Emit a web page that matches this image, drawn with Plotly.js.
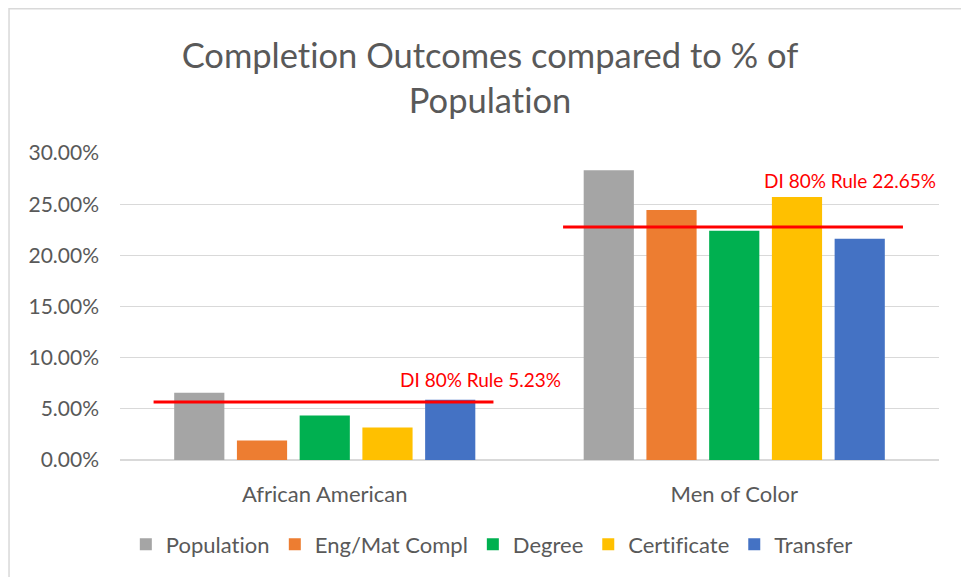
<!DOCTYPE html>
<html>
<head>
<meta charset="utf-8">
<script src="https://cdn.plot.ly/plotly-3.0.1.min.js"></script>
<style>
  html, body { margin: 0; padding: 0; background: #fff; }
  #chart { width: 961px; height: 577px; }
  #chart text { font-variant-ligatures: none; font-feature-settings: "liga" 0; }
</style>
</head>
<body>
<div id="chart"></div>
<script>
const categories = ['African American', 'Men of Color'];
const seriesNames = ['Population', 'Eng/Mat Compl', 'Degree', 'Certificate', 'Transfer'];
const population = [0.0657, 0.2832];
const engMatCompl = [0.0191, 0.2444];
const degree = [0.0434, 0.2240];
const certificate = [0.0317, 0.2570];
const transfer = [0.0589, 0.2162];
const seriesColors = ['#A5A5A5', '#ED7D31', '#00B050', '#FFC000', '#4472C4'];
const diLineValues = [0.0567, 0.2276];
const diLabels = ['DI 80% Rule 5.23%', 'DI 80% Rule 22.65%'];
const diLabelY = [0.0783, 0.2735];
const yTickVals = [0, 0.05, 0.10, 0.15, 0.20, 0.25, 0.30];

const FONT = 'Lato, Carlito, Calibri, "Noto Sans", sans-serif';
const GREY = '#595959';

const seriesData = [population, engMatCompl, degree, certificate, transfer];
const traces = seriesData.map((vals, i) => ({
  type: 'bar',
  name: seriesNames[i],
  x: categories,
  y: vals,
  marker: { color: seriesColors[i], line: { width: 0 } },
  hoverinfo: 'x+y+name'
}));

const shapes = diLineValues.map((v, i) => ({
  type: 'line', xref: 'x', yref: 'y',
  x0: i - 0.418, x1: i + 0.412, y0: v, y1: v,
  line: { color: '#FF0000', width: 3 },
  layer: 'above'
}));
// chart frame
shapes.push({
  type: 'rect', xref: 'paper', yref: 'paper',
  x0: -0.1355, x1: 1.2, y0: -0.6, y1: 1.47,
  line: { color: '#D9D9D9', width: 1.5 },
  fillcolor: 'rgba(0,0,0,0)', layer: 'below'
});

const annotations = diLabels.map((t, i) => ({
  xref: 'x', yref: 'y',
  x: i === 0 ? 0.582 : 1.4985, y: diLabelY[i],
  text: t, showarrow: false, xanchor: 'right', yanchor: 'middle',
  font: { family: FONT, size: 19, color: '#FF0000' }
}));

const layout = {
  width: 961, height: 577,
  margin: { l: 120, r: 22, t: 153, b: 115 },
  paper_bgcolor: '#ffffff', plot_bgcolor: '#ffffff',
  font: { family: FONT, color: GREY },
  title: {
    text: 'Completion Outcomes compared to % of<br>Population',
    font: { family: FONT, size: 34.5, color: GREY },
    x: 490 / 961, xanchor: 'center', xref: 'container',
    y: 1 - 68 / 577, yanchor: 'middle', yref: 'container'
  },
  barmode: 'group',
  bargap: 0.234,
  bargroupgap: 0.2,
  showlegend: true,
  legend: {
    orientation: 'h', x: 0.454, xanchor: 'center', y: -0.275, yanchor: 'middle',
    font: { family: FONT, size: 22, color: GREY },
    traceorder: 'normal'
  },
  xaxis: {
    type: 'category',
    range: [-0.5, 1.5],
    showgrid: false, zeroline: false, showline: false,
    ticks: '', ticklabelstandoff: 19,
    tickfont: { family: FONT, size: 22, color: GREY },
    fixedrange: true
  },
  yaxis: {
    range: [0, 0.30],
    tickvals: yTickVals,
    tickformat: '.2%',
    showgrid: true, gridcolor: '#D9D9D9', gridwidth: 1.3,
    zeroline: true, zerolinecolor: '#D9D9D9', zerolinewidth: 1.3,
    showline: false, ticks: '', ticklabelstandoff: 20,
    tickfont: { family: FONT, size: 21, color: GREY },
    fixedrange: true
  },
  shapes: shapes,
  annotations: annotations
};

Plotly.newPlot('chart', traces, layout, { displayModeBar: false, staticPlot: true });
</script>
</body>
</html>
